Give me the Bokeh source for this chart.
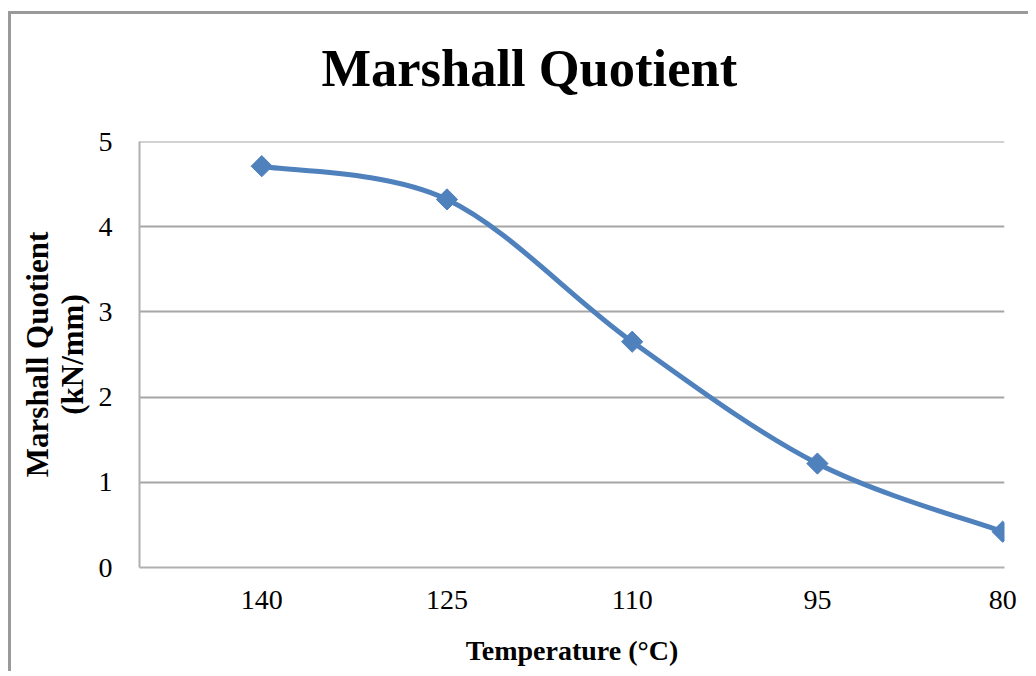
from bokeh.plotting import figure
from bokeh.embed import file_html
from bokeh.resources import INLINE
from bokeh.models import FixedTicker, Range1d, ColumnDataSource, Span, Title
import math

title_text = "Marshall Quotient"
temperatures = ["140", "125", "110", "95", "80"]
quotient = [4.71, 4.32, 2.65, 1.22, 0.42]
y_ticks = [0, 1, 2, 3, 4, 5]
y_max = 5

xs = list(range(len(temperatures)))

# Smooth (Catmull-Rom style) bezier segments through the data points
x0, y0, x1, y1, cx0, cy0, cx1, cy1 = [], [], [], [], [], [], [], []
n = len(xs)
for i in range(n - 1):
    pm = i - 1 if i > 0 else 0
    pp = i + 2 if i + 2 < n else n - 1
    x0.append(xs[i]); y0.append(quotient[i])
    x1.append(xs[i + 1]); y1.append(quotient[i + 1])
    cx0.append(xs[i] + (xs[i + 1] - xs[pm]) / 6)
    cy0.append(quotient[i] + (quotient[i + 1] - quotient[pm]) / 6)
    cx1.append(xs[i + 1] - (xs[pp] - xs[i]) / 6)
    cy1.append(quotient[i + 1] - (quotient[pp] - quotient[i]) / 6)

p = figure(width=1020, height=660, output_backend="svg", toolbar_location=None, title=None,
           x_range=Range1d(-0.66, 4.01), y_range=Range1d(0, y_max),
           min_border_left=128, min_border_right=27, min_border_top=127, min_border_bottom=107)

p.styles = {"border-left": "3px solid #9a9a9a", "border-top": "3px solid #9a9a9a",
            "margin-top": "11px", "margin-left": "8px"}

# spacer between frame and title, then the title itself (later = further from frame)
p.add_layout(Title(text=" ", text_font_size="1px", standoff=37), "above")
p.add_layout(Title(text=title_text, text_font="Liberation Serif", text_font_size="52.5px",
                   text_font_style="bold", text_color="black", align="left", offset=182,
                   standoff=10), "above")

p.outline_line_color = None
p.background_fill_color = "white"
p.border_fill_color = "white"

p.xgrid.grid_line_color = None
p.ygrid.grid_line_color = "#a6a6a6"
p.ygrid.grid_line_width = 2
p.yaxis.ticker = FixedTicker(ticks=y_ticks)
p.xaxis.ticker = FixedTicker(ticks=xs)
p.xaxis.major_label_overrides = {i: t for i, t in enumerate(temperatures)}

p.add_layout(Span(location=y_max, dimension="width", line_color="#a6a6a6", line_width=2))

for ax in (p.xaxis[0], p.yaxis[0]):
    ax.axis_line_color = "#b0b0b0"
    ax.axis_line_width = 2
    ax.major_tick_line_color = None
    ax.minor_tick_line_color = None
    ax.major_label_text_font = "Liberation Serif"
    ax.major_label_text_font_size = "28px"
    ax.major_label_text_color = "black"
    ax.axis_label_text_font = "Liberation Serif"
    ax.axis_label_text_font_size = "28px"
    ax.axis_label_text_font_style = "bold"
    ax.axis_label_text_color = "black"

p.xaxis.major_label_standoff = 17
p.yaxis.major_label_standoff = 21
p.xaxis.axis_label = "Temperature (°C)"
p.yaxis.axis_label = "Marshall Quotient\n(kN/mm)"
p.xaxis.axis_label_standoff = 23
p.yaxis.axis_label_standoff = 6
p.yaxis.axis_label_text_font_size = "31px"
p.yaxis.axis_label_text_line_height = 1.0

src = ColumnDataSource(dict(x0=x0, y0=y0, x1=x1, y1=y1, cx0=cx0, cy0=cy0, cx1=cx1, cy1=cy1))
p.bezier(x0="x0", y0="y0", x1="x1", y1="y1", cx0="cx0", cy0="cy0", cx1="cx1", cy1="cy1",
         source=src, line_color="#4f81bd", line_width=5)
p.scatter(xs, quotient, marker="square", angle=math.pi / 4, size=15,
          fill_color="#4f81bd", line_color="#4f81bd")

open("out.html", "w").write(file_html(p, INLINE))
